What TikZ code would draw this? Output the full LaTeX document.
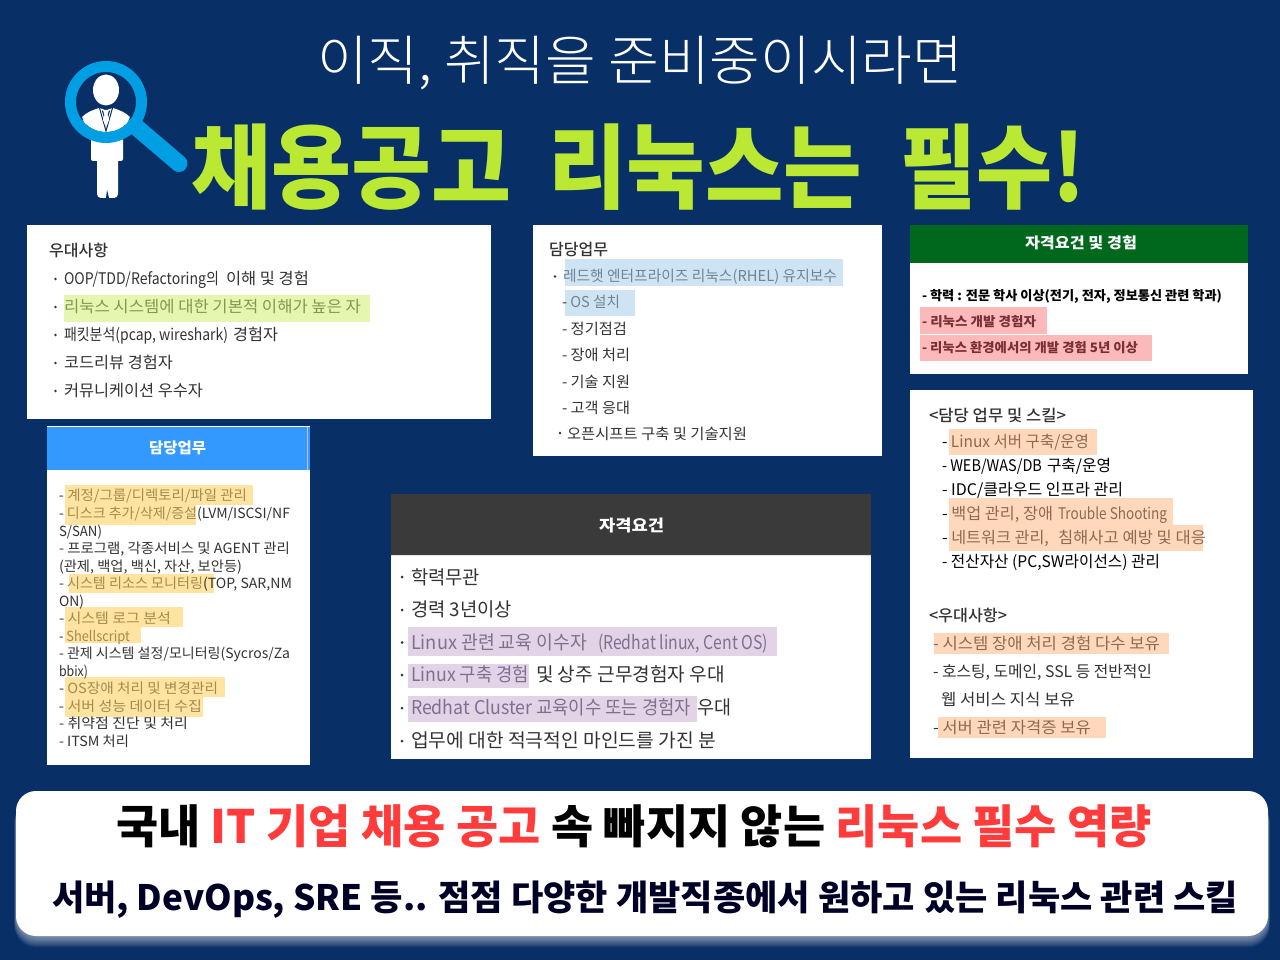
\documentclass[tikz,border=0pt]{standalone}
\usepackage{graphicx}
\usepackage{fontspec}
\setmainfont{Noto Sans CJK KR}
\newfontfamily\cjklight{Noto Sans CJK KR Light}
\newfontfamily\cjkblack{Noto Sans CJK KR Black}
\newfontfamily\cjkmed{Noto Sans CJK KR Medium}
\definecolor{navybg}{HTML}{092F67}
\definecolor{lime}{HTML}{BBE833}
\definecolor{ringblue}{HTML}{009FE3}
\definecolor{ink}{HTML}{333333}
\definecolor{hlgreen}{HTML}{E4F6AF}
\definecolor{hlblue}{HTML}{CFE4F2}
\definecolor{hlred}{HTML}{FBB9B9}
\definecolor{hlorange}{HTML}{FFD8BC}
\definecolor{hlyellow}{HTML}{FFE3A0}
\definecolor{hlpurple}{HTML}{E2D4E6}
\definecolor{tgreen}{HTML}{86964E}
\definecolor{tblue}{HTML}{6F8597}
\definecolor{tred}{HTML}{7A2E36}
\definecolor{torange}{HTML}{8E6A50}
\definecolor{tyellow}{HTML}{A48A50}
\definecolor{tpurple}{HTML}{7F7090}
\definecolor{redtxt}{HTML}{FF3B3B}
\definecolor{hdgreen}{HTML}{00681C}
\definecolor{hdblue}{HTML}{3399FF}
\definecolor{hddark}{HTML}{3A3A3A}
\newbox\fitbox
\newdimen\fitw
\newcommand\fitto[3]{\setbox\fitbox\hbox{#3}\fitw=\wd\fitbox\pgfmathsetmacro\rr{(#2-#1)/\fitw}\scalebox{\rr}[1]{\copy\fitbox}}
\tikzset{txt/.style={anchor=base west,inner sep=0pt,outer sep=0pt},
 hl/.style={fill=#1,draw=none},
 panelbox/.style={fill=white,draw=none}}
% name, x1, x2, baseline, size, colour, text
\newcommand\T[7]{\node[txt,text=#6,font=\fontsize{#5}{#5}\selectfont] (#1) at (#2,#4) {\fitto{#2}{#3}{#7}};}
\newcommand\HL[5]{\fill[hl=#5] (#1,#2) rectangle (#3,#4);}
\newcommand\BL[4]{\fill[ink] (#2,#3) circle (#4);}
\begin{document}
\begin{tikzpicture}[x=1pt,y=-1pt]
\useasboundingbox (0,0) rectangle (1280,960);
\fill[navybg] (0,0) rectangle (1280,960);
% icon
\begin{scope}
\fill[white,rounded corners=2pt] (91,135) rectangle (123,161);
\fill[white,rounded corners=4pt] (97,150) rectangle (118,198);
\fill[navybg] (107,190) -- (109,198) -- (106,198) -- cycle;
\fill[white] (106,90) ellipse (13 and 15.5);
\begin{scope}
\clip (106,102) circle (30);
\fill[white] (82,117) .. controls (87,112) and (93,110) .. (99,108) -- (106,110) -- (113,108) .. controls (119,110) and (125,112) .. (130,117) -- (130,140) -- (82,140) -- cycle;
\fill[navybg] (82,117) -- (74,112) -- (74,140) -- (90,140) -- cycle;
\fill[navybg] (130,117) -- (138,112) -- (138,140) -- (122,140) -- cycle;
\draw[navybg,line width=1pt] (99.5,108) -- (106,131) -- (112.5,108);
\fill[navybg] (102,111) -- (103.5,116) -- (106,128) -- (108.5,116) -- (110,111) -- (106,108) -- cycle;
\fill[white] (103,110) -- (109,110) -- (107.6,115) -- (109,120) -- (106,127) -- (103,120) -- (104.4,115) -- cycle;
\end{scope}
\draw[ringblue,line width=17pt,line cap=round] (135,126) -- (179,163.5);
\draw[ringblue,line width=11pt] (106,102) circle (35.5);
\end{scope}
% title
\T{title}{317}{963}{81}{54}{white}{\cjklight 이직, 취직을 준비중이시라면}
\T{mainttla}{191}{511}{202}{92}{lime}{\cjkblack 채용공고}
\T{mainttlb}{548}{862}{202}{92}{lime}{\cjkblack 리눅스는}
\T{mainttlc}{900}{1085}{202}{92}{lime}{\cjkblack 필수!}
% box 1
\fill[panelbox] (27,225) rectangle (491,419);
\HL{64}{295}{370}{321.5}{hlgreen}
\T{a0}{49}{108}{257}{16}{ink}{\cjkmed 우대사항}
\BL{}{55.5}{279}{1.3}
\BL{}{55.5}{307}{1.3}
\BL{}{55.5}{335}{1.3}
\BL{}{55.5}{363}{1.3}
\BL{}{55.5}{391}{1.3}
\T{a1a}{64}{219}{284}{16}{ink}{OOP/TDD/Refactoring의}
\T{a1b}{226}{309}{284}{16}{ink}{이해 및 경험}
\T{a2}{64}{361}{312}{16}{tgreen}{리눅스 시스템에 대한 기본적 이해가 높은 자}
\T{a3a}{64}{228}{340}{16}{ink}{패킷분석(pcap, wireshark)}
\T{a3b}{233}{278}{340}{16}{ink}{경험자}
\T{a4}{64}{173}{368}{16}{ink}{코드리뷰 경험자}
\T{a5}{64}{203}{396}{16}{ink}{커뮤니케이션 우수자}
% box 2
\fill[panelbox] (533,225) rectangle (882,456);
\HL{565}{259}{843}{286}{hlblue}
\HL{565}{290}{635}{316}{hlblue}
\T{b0}{549}{608}{255}{16}{ink}{\cjkmed 담당업무}
\BL{}{555}{276.5}{1.3}
\BL{}{560}{433}{1.3}
\T{b1}{563}{837}{281}{15}{tblue}{레드햇 엔터프라이즈 리눅스(RHEL) 유지보수}
\T{b2}{562}{620}{307}{15}{tblue}{\textcolor{ink}{-} OS 설치}
\T{b3}{562}{627}{334}{15}{ink}{- 정기점검}
\T{b4}{562}{630}{360}{15}{ink}{- 장애 처리}
\T{b5}{562}{630}{387}{15}{ink}{- 기술 지원}
\T{b6}{562}{630}{413}{15}{ink}{- 고객 응대}
\T{b7}{567}{747}{439}{15}{ink}{오픈시프트 구축 및 기술지원}
% box 3
\fill[panelbox] (910,225) rectangle (1248,374);
\fill[hdgreen] (910,225) rectangle (1248,263);
\HL{920}{307}{1047}{334}{hlred}
\HL{920}{334.5}{1152}{361}{hlred}
\T{c0}{1025}{1137}{248}{15}{white}{\bfseries 자격요건 및 경험}
\T{c1}{922}{1222}{300}{13}{black}{\bfseries - 학력 : 전문 학사 이상(전기, 전자, 정보통신 관련 학과)}
\T{c2}{922}{1036}{326}{13}{tred}{\bfseries - 리눅스 개발 경험자}
\T{c3}{922}{1138}{352}{13}{tred}{\bfseries - 리눅스 환경에서의 개발 경험 5년 이상}
% box 4
\fill[panelbox] (910,390) rectangle (1253,758);
\HL{949}{429}{1097}{455}{hlorange}
\HL{949}{498}{1173}{525}{hlorange}
\HL{949}{525}{1203}{551}{hlorange}
\HL{934}{633}{1169}{654}{hlorange}
\HL{938}{717}{1106}{738}{hlorange}
\T{d0}{929}{1066}{421}{16}{ink}{\cjkmed <담당 업무 및 스킬>}
\T{d1}{942}{1089}{447}{16}{black}{- \textcolor{torange}{Linux 서버 구축/운영}}
\T{d2a}{942}{1042}{471}{16}{black}{- WEB/WAS/DB}
\T{d2b}{1047}{1111}{471}{16}{black}{구축/운영}
\T{d3}{942}{1123}{495}{16}{black}{- IDC/클라우드 인프라 관리}
\T{d4a}{942}{1053}{519}{16}{black}{- \textcolor{torange}{백업 관리, 장애}}
\T{d4b}{1058}{1167}{519}{16}{torange}{Trouble Shooting}
\T{d5a}{942}{1049}{543}{16}{black}{- \textcolor{torange}{네트워크 관리,}}
\T{d5b}{1058}{1206}{543}{16}{torange}{침해사고 예방 및 대응}
\T{d6}{942}{1160}{567}{16}{black}{- 전산자산 (PC,SW라이선스) 관리}
\T{d7}{929}{1007}{621}{16}{ink}{\cjkmed <우대사항>}
\T{d8}{933}{1160}{649}{16}{torange}{- 시스템 장애 처리 경험 다수 보유}
\T{d9}{933}{1152}{677}{16}{ink}{- 호스팅, 도메인, SSL 등 전반적인}
\T{d10}{941}{1075}{705}{16}{ink}{웹 서비스 지식 보유}
\T{d11}{933}{1091}{733}{16}{torange}{\textcolor{ink}{-} 서버 관련 자격증 보유}
% box 5
\fill[panelbox] (47,427) rectangle (310,765);
\fill[hdblue] (47,426) rectangle (310,470);
\draw[white,line width=0.8pt] (47,426.5) -- (310,426.5);
\draw[white!75!blue,line width=0.8pt] (307.5,427) -- (307.5,470);
\HL{65}{485}{253}{505}{hlyellow}
\HL{65}{505}{196}{525}{hlyellow}
\HL{69}{574}{214}{593}{hlyellow}
\HL{65}{607}{183}{627}{hlyellow}
\HL{65}{627}{141}{643}{hlyellow}
\HL{65}{677}{225}{697}{hlyellow}
\HL{65}{697}{203}{717}{hlyellow}
\T{e0}{149}{206}{453}{15}{white}{\bfseries 담당업무}
\T{e1}{59}{247}{500}{14}{ink}{- \textcolor{tyellow}{계정/그룹/디렉토리/파일 관리}}
\T{e2}{59}{290}{518}{14}{ink}{- \textcolor{tyellow}{디스크 추가/삭제/증설}(LVM/ISCSI/NF}
\T{e3}{59}{102}{536}{14}{ink}{S/SAN)}
\T{e4}{59}{290}{553}{14}{ink}{- 프로그램, 각종서비스 및 AGENT 관리}
\T{e5}{59}{242}{571}{14}{ink}{(관제, 백업, 백신, 자산, 보안등)}
\T{e6}{59}{292}{588}{14}{ink}{- \textcolor{tyellow}{시스템 리소스 모니터링}(TOP, SAR,NM}
\T{e7}{59}{84}{606}{14}{ink}{ON)}
\T{e8}{59}{171}{623}{14}{ink}{- \textcolor{tyellow}{시스템 로그 분석}}
\T{e9}{59}{130}{641}{14}{ink}{- \textcolor{tyellow}{Shellscript}}
\T{e10}{59}{290}{658}{14}{ink}{- 관제 시스템 설정/모니터링(Sycros/Za}
\T{e11}{59}{88}{676}{14}{ink}{bbix)}
\T{e12}{59}{218}{693}{14}{ink}{- \textcolor{tyellow}{OS장애 처리 및 변경관리}}
\T{e13}{59}{202}{711}{14}{ink}{- \textcolor{tyellow}{서버 성능 데이터 수집}}
\T{e14}{59}{188}{728}{14}{ink}{- 취약점 진단 및 처리}
\T{e15}{59}{129}{746}{14}{ink}{- ITSM 처리}
% box 6
\fill[panelbox] (391,494) rectangle (871,759);
\fill[hddark] (391,494) rectangle (871,555);
\draw[black!75,line width=0.8pt] (391,554.6) -- (871,554.6);
\draw[black!12,line width=1pt] (391,555.6) -- (871,555.6);
\HL{408}{627}{777}{656}{hlpurple}
\HL{408}{664}{529}{688}{hlpurple}
\HL{408}{696}{697}{722}{hlpurple}
\T{f0}{599}{664}{531}{16}{white}{\bfseries 자격요건}
\BL{}{402}{577}{1.5}
\BL{}{402}{610}{1.5}
\BL{}{402}{642.5}{1.5}
\BL{}{402}{675}{1.5}
\BL{}{402}{708}{1.5}
\BL{}{402}{741}{1.5}
\T{f1}{411}{480}{584}{19}{ink}{학력무관}
\T{f2}{411}{512}{616}{19}{ink}{경력 3년이상}
\T{f3a}{411}{587}{649}{19}{tpurple}{Linux 관련 교육 이수자}
\T{f3b}{598}{768}{649}{19}{tpurple}{(Redhat linux, Cent OS)}
\T{f4a}{411}{529}{681}{19}{tpurple}{Linux 구축 경험}
\T{f4b}{536}{725}{681}{19}{ink}{및 상주 근무경험자 우대}
\T{f5a}{411}{691}{714}{19}{tpurple}{Redhat Cluster 교육이수 또는 경험자}
\T{f5b}{697}{731}{714}{19}{ink}{우대}
\T{f6}{411}{716}{747}{19}{ink}{업무에 대한 적극적인 마인드를 가진 분}
% bottom panel
\foreach \i in {1,...,12}{
 \fill[white,opacity=0.05,rounded corners=22pt] ({16-\i*0.15},{800}) rectangle ({1268+\i*0.15},{936+\i*0.95});
}
\fill[panelbox,rounded corners=20pt] (16,791) rectangle (1268,936);
\T{g1}{116}{1152}{843}{46}{black}{\bfseries 국내 \textcolor{redtxt}{IT 기업 채용 공고} 속 빠지지 않는 \textcolor{redtxt}{리눅스 필수 역량}}
\T{g2}{52}{1238}{910}{35}{black!85!blue}{\bfseries 서버, DevOps, SRE 등.. 점점 다양한 개발직종에서 원하고 있는 리눅스 관련 스킬}
\end{tikzpicture}
\end{document}
